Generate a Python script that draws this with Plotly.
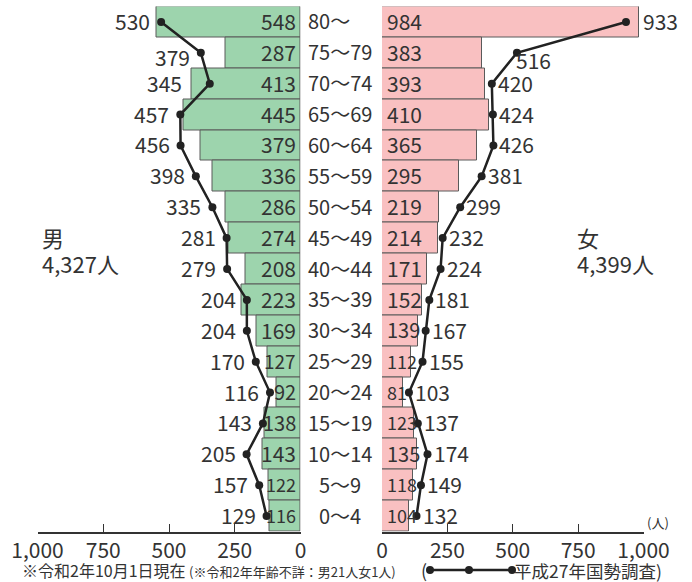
import plotly.graph_objects as go

ages = ["80～", "75～79", "70～74", "65～69", "60～64", "55～59", "50～54", "45～49",
        "40～44", "35～39", "30～34", "25～29", "20～24", "15～19", "10～14", "5～9", "0～4"]
male_2020 = [548, 287, 413, 445, 379, 336, 286, 274, 208, 223, 169, 127, 92, 138, 143, 122, 116]
male_2015 = [530, 379, 345, 457, 456, 398, 335, 281, 279, 204, 204, 170, 116, 143, 205, 157, 129]
female_2020 = [984, 383, 393, 410, 365, 295, 219, 214, 171, 152, 139, 112, 81, 123, 135, 118, 104]
female_2015 = [933, 516, 420, 424, 426, 381, 299, 232, 224, 181, 167, 155, 103, 137, 174, 149, 132]
tick_vals = [0, 250, 500, 750, 1000]
tick_text = ["0", "250", "500", "750", "1,000"]
male_label, male_total = "男", "4,327人"
female_label, female_total = "女", "4,399人"

W, H = 692, 582
FONT = "Noto Sans CJK JP"
TXT = "#333333"
GREEN = "#9dd4ad"
PINK = "#f9c0c1"
EDGE = "#5a5a5a"
NUM = 21
YS = 1
PX_PER_UNIT = 0.262

fig = go.Figure()

fig.add_trace(go.Bar(y=ages, x=male_2020, orientation="h", xaxis="x", yaxis="y",
                     marker=dict(color=GREEN, line=dict(color=EDGE, width=1)), width=1,
                     hoverinfo="x+y", showlegend=False))
fig.add_trace(go.Bar(y=ages, x=female_2020, orientation="h", xaxis="x2", yaxis="y",
                     marker=dict(color=PINK, line=dict(color=EDGE, width=1)), width=1,
                     hoverinfo="x+y", showlegend=False))

fig.add_trace(go.Scatter(y=ages, x=male_2015, mode="lines+markers", xaxis="x", yaxis="y",
                         line=dict(color="#222222", width=2.5),
                         marker=dict(color="#222222", size=8), showlegend=False))
fig.add_trace(go.Scatter(y=ages, x=female_2015, mode="lines+markers", xaxis="x2", yaxis="y",
                         line=dict(color="#222222", width=2.5),
                         marker=dict(color="#222222", size=8), showlegend=False))

ydom = [(H - 531.5) / H, (H - 6.5) / H]
axis_common = dict(showgrid=False, zeroline=False, showline=True, linecolor="#333333", linewidth=1.5,
                   ticks="inside", ticklen=8, tickwidth=1.2, tickcolor="#333333",
                   tickvals=tick_vals, ticktext=tick_text, automargin=False,
                   tickfont=dict(family=FONT, size=NUM, color=TXT), anchor="y", fixedrange=True)

fig.update_layout(
    width=W, height=H,
    margin=dict(l=0, r=0, t=0, b=0, autoexpand=False),
    paper_bgcolor="white", plot_bgcolor="white",
    barmode="overlay", bargap=0,
    font=dict(family=FONT, color=TXT),
    xaxis=dict(domain=[37.5 / W, 300.5 / W], range=[1000, 0], **axis_common),
    xaxis2=dict(domain=[382 / W, 643.5 / W], range=[0, 1000], **axis_common),
    yaxis=dict(domain=ydom, range=[16.5, -0.5], type="category", categoryorder="array",
               categoryarray=ages, showticklabels=False, showgrid=False, zeroline=False,
               showline=False, ticks="", fixedrange=True, automargin=False),
)


def lab(xref, x, y, text, anchor, xs=0, ys=0, size=NUM):
    return dict(xref=xref, x=x, yref="y", y=y, text=text, showarrow=False,
                xanchor=anchor, yanchor="middle", xshift=xs, yshift=YS + ys,
                font=dict(family=FONT, size=size, color=TXT))


def bar_size(v):
    # shrink the label a little when the bar is too short for it
    fit = (v * PX_PER_UNIT - 1) / (len(str(v)) * 0.58)
    return round(max(18, min(NUM, fit)))


def ann(x, y, text, size, anchor="left"):
    return dict(x=x / W, y=(H - y) / H, xref="paper", yref="paper", text=text, showarrow=False,
                xanchor=anchor, yanchor="middle", font=dict(family=FONT, size=size, color=TXT))


annotations = []
for i, a in enumerate(ages):
    # age label in the centre column
    annotations.append(dict(x=339.5 / W, xref="paper", y=a, yref="y", text=a, showarrow=False,
                            xanchor="center", yanchor="middle", xshift=-11 if i == 0 else 0,
                            yshift=YS, font=dict(family=FONT, size=20, color=TXT)))
    # bar values
    annotations.append(lab("x", 0, a, str(male_2020[i]), "right", xs=-3, size=bar_size(male_2020[i])))
    annotations.append(lab("x2", 0, a, str(female_2020[i]), "left", xs=3, size=bar_size(female_2020[i])))
    # 2015 values
    mxs, mys = -9, 0
    if i == 1:
        mys = -5
    if i == 2:
        mxs = -26
    annotations.append(lab("x", male_2015[i], a, str(male_2015[i]), "right", xs=mxs, ys=mys))
    fxs, fys = 4, 0
    if i == 0:
        fxs = 15
    if i == 1:
        fxs, fys = -3, -8
    annotations.append(lab("x2", female_2015[i], a, str(female_2015[i]), "left", xs=fxs, ys=fys))

annotations += [
    ann(40, 237, male_label, 22),
    ann(40, 263, male_total, 22),
    ann(575, 237, female_label, 22),
    ann(575, 263, female_total, 22),
    ann(645, 522, "(人)", 13),
    ann(20, 570, "※令和2年10月1日現在 <span style='font-size:13px'>(※令和2年年齢不詳：男21人女1人)</span>", 16),
    ann(419, 570, "(", 18),
    ann(512, 570, "平成27年国勢調査)", 17.5),
]
fig.update_layout(annotations=annotations)

# legend line sample
ly = (H - 570) / H
shapes = [dict(type="line", xref="paper", yref="paper", x0=430 / W, x1=512 / W, y0=ly, y1=ly,
               line=dict(color="#222222", width=2.5))]
for cx in [430, 469, 512]:
    shapes.append(dict(type="circle", xref="paper", yref="paper",
                       x0=(cx - 4) / W, x1=(cx + 4) / W, y0=ly - 4 / H, y1=ly + 4 / H,
                       fillcolor="#222222", line=dict(color="#222222", width=0)))
fig.update_layout(shapes=shapes)

fig.write_html("out.html", config={"displayModeBar": False, "responsive": False},
               post_script="document.body.style.margin='0';document.body.style.overflow='hidden';")
